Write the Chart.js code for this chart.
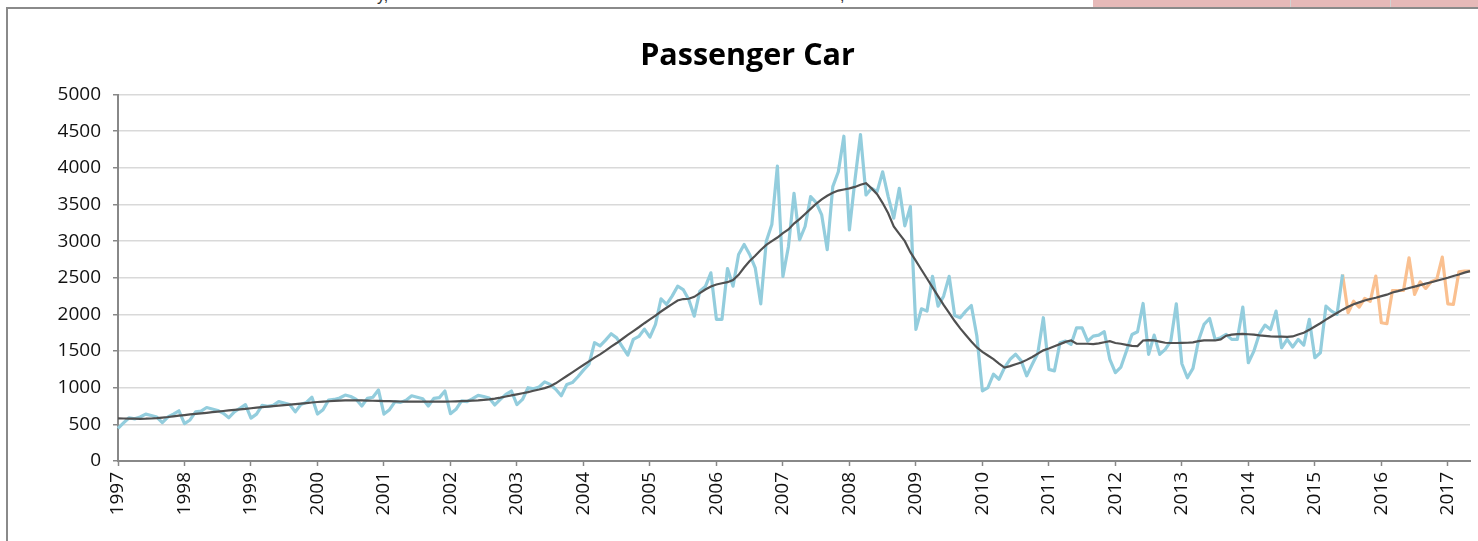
<!DOCTYPE html>
<html>
<head>
<meta charset="utf-8">
<script src="https://cdn.jsdelivr.net/npm/chart.js@4.4.1/dist/chart.umd.min.js"></script>
<style>
  html, body { margin: 0; padding: 0; background: #fff; overflow: hidden; width: 1478px; height: 541px; }
  .cut { position: absolute; top: -13px; font: 16px "Liberation Sans", sans-serif; color: #333; }
  .pink { position: absolute; left: 1093px; top: 0; width: 385px; height: 7px; background: #e6b9b8; }
  .pink i { position: absolute; top: 0; width: 1px; height: 7px; background: #d2d2d2; }
  .frame { position: absolute; left: 6px; top: 7px; width: 1500px; height: 600px;
           border-left: 2px solid #8a8a8a; border-top: 2px solid #8a8a8a; }
  .wrap { position: absolute; left: 0; top: 0; width: 1479px; height: 532px; }
</style>
</head>
<body>
<span class="cut" style="left:377px">y,</span>
<span class="cut" style="left:840px">,</span>
<div class="pink"><i style="left:197px"></i><i style="left:297px"></i></div>
<div class="frame">
  <div class="wrap"><canvas id="carChart"></canvas></div>
</div>
<script>
// Passenger car sales, monthly, Jan 1997 - May 2017

const yearTicks = ['1997', '1998', '1999', '2000', '2001', '2002', '2003', '2004', '2005', '2006', '2007',
    '2008', '2009', '2010', '2011', '2012', '2013', '2014', '2015', '2016', '2017'];

// actual values, Jan 1997 - Jun 2015
const actual = [
    445, 520, 590, 575, 600, 640, 620, 600, 525, 600, 640, 685,
    510, 560, 670, 680, 730, 710, 690, 650, 590, 670, 720, 770,
    585, 640, 760, 745, 760, 810, 790, 770, 670, 770, 800, 870,
    640, 700, 830, 840, 860, 900, 880, 840, 750, 855, 870, 970,
    640, 700, 810, 800, 830, 890, 870, 850, 750, 855, 865, 955,
    645, 705, 820, 810, 850, 895, 880, 860, 765, 840, 910, 955,
    770, 840, 1000, 985, 1010, 1080, 1045, 980, 890, 1045, 1070, 1150,
    1240, 1320, 1614, 1570, 1650, 1736, 1680, 1560, 1445, 1660, 1700, 1800,
    1690, 1864, 2214, 2136, 2250, 2386, 2340, 2205, 1977, 2318, 2380, 2568,
    1932, 1932, 2627, 2386, 2818, 2955, 2818, 2636, 2145, 3000, 3227, 4023,
    2520, 2928, 3653, 3019, 3200, 3608, 3526, 3358, 2883, 3744, 3947, 4432,
    3155, 3834, 4455, 3630, 3721, 3676, 3947, 3608, 3313, 3721, 3209, 3472,
    1796, 2077, 2045, 2520, 2113, 2249, 2520, 1986, 1954, 2045, 2122, 1705,
    958, 1003, 1184, 1116, 1275, 1388, 1456, 1366, 1162, 1320, 1470, 1955,
    1250, 1230, 1614, 1636, 1591, 1818, 1818, 1636, 1705, 1718, 1764, 1386,
    1205, 1282, 1500, 1727, 1764, 2150, 1455, 1718, 1455, 1523, 1636, 2145,
    1327, 1136, 1264, 1645, 1864, 1945, 1659, 1682, 1727, 1659, 1659, 2100,
    1341, 1500, 1736, 1855, 1795, 2045, 1545, 1659, 1555, 1659, 1582, 1932,
    1409, 1477, 2114, 2045, 2000, 2545
];

// forecast values, Jun 2015 - May 2017
const forecast = [
    2545, 2023, 2180, 2100, 2218, 2180, 2523, 1886, 1873, 2327, 2327, 2327,
    2773, 2273, 2445, 2355, 2445, 2477, 2782, 2145, 2136, 2582, 2590, 2591
];

// moving average trend, Jan 1997 - May 2017
const trend = [
    582, 580, 578, 577, 576, 577, 580, 585, 592, 600, 610, 620,
    627, 635, 643, 650, 658, 666, 674, 682, 690, 698, 705, 712,
    720, 728, 735, 742, 749, 756, 763, 770, 777, 784, 791, 798,
    805, 810, 815, 820, 824, 827, 828, 828, 827, 825, 822, 820,
    818, 816, 814, 812, 811, 810, 810, 810, 810, 810, 810, 811,
    812, 814, 817, 820, 824, 828, 835, 842, 852, 865, 880, 895,
    910, 925, 940, 958, 975, 995, 1020, 1060, 1110, 1160, 1210, 1260,
    1310, 1360, 1410, 1455, 1505, 1560, 1610, 1665, 1720, 1773, 1825, 1880,
    1932, 1985, 2040, 2091, 2140, 2190, 2210, 2214, 2240, 2290, 2340, 2380,
    2409, 2425, 2440, 2470, 2540, 2640, 2730, 2800, 2880, 2950, 3000, 3050,
    3110, 3160, 3240, 3300, 3370, 3440, 3510, 3570, 3620, 3660, 3690, 3705,
    3720, 3740, 3770, 3790, 3720, 3640, 3520, 3380, 3200, 3100, 3000, 2850,
    2730, 2610, 2490, 2370, 2250, 2130, 2020, 1910, 1810, 1720, 1630, 1550,
    1490, 1440, 1390, 1330, 1275, 1295, 1320, 1345, 1380, 1420, 1465, 1510,
    1535, 1565, 1595, 1625, 1645, 1600, 1600, 1600, 1595, 1605, 1620, 1636,
    1610, 1600, 1585, 1570, 1568, 1645, 1650, 1645, 1630, 1614, 1610, 1610,
    1612, 1614, 1620, 1635, 1645, 1645, 1645, 1660, 1710, 1725, 1732, 1736,
    1730, 1725, 1714, 1708, 1702, 1698, 1696, 1695, 1700, 1727, 1750, 1790,
    1835, 1880, 1930, 1975, 2020, 2065, 2105, 2140, 2165, 2190, 2210, 2227,
    2250, 2270, 2300, 2318, 2340, 2360, 2380, 2400, 2420, 2440, 2460, 2480,
    2500, 2525, 2545, 2570, 2591
];

// one label per month, the year shown only on January
const labels = [];
yearTicks.forEach(y => {
    for (let m = 1; m <= 12; m++) labels.push(y + '-' + m);
});
labels.length = trend.length;

const actualData = labels.map((_, i) => i < actual.length ? actual[i] : null);
const fcStart = labels.length - forecast.length;
const forecastData = labels.map((_, i) => i >= fcStart ? forecast[i - fcStart] : null);

const font = { family: '"Open Sans", sans-serif', size: 19 };

new Chart(document.getElementById('carChart'), {
    type: 'line',
    data: {
        labels: labels,
        datasets: [
            {
                label: 'Trend',
                data: trend,
                borderColor: '#505050',
                borderWidth: 2.2,
                pointRadius: 0,
                tension: 0
            },
            {
                label: 'Actual',
                data: actualData,
                borderColor: '#93cddd',
                borderWidth: 3.2,
                pointRadius: 0,
                tension: 0,
                borderJoinStyle: 'round'
            },
            {
                label: 'Forecast',
                data: forecastData,
                borderColor: '#fac090',
                borderWidth: 3.2,
                pointRadius: 0,
                tension: 0,
                borderJoinStyle: 'round'
            }
        ]
    },
    options: {
        responsive: true,
        maintainAspectRatio: false,
        animation: false,
        // left padding keeps the title centred where the reference has it
        layout: { padding: { left: 17, right: 17, top: 0, bottom: 0 } },
        plugins: {
            legend: { display: false },
            tooltip: { enabled: false },
            title: {
                display: true,
                text: 'Passenger Car',
                color: '#000',
                font: { family: '"Open Sans", sans-serif', size: 30.5, weight: 'bold' },
                padding: { top: 29, bottom: 20 }
            }
        },
        scales: {
            x: {
                afterFit: s => { s.height = 80; },
                grid: { drawOnChartArea: false, tickLength: 5, tickColor: '#888', tickWidth: 1.5 },
                border: { color: '#888', width: 2 },
                ticks: {
                    autoSkip: false,
                    minRotation: 90,
                    maxRotation: 90,
                    padding: 6,
                    color: '#111',
                    font: font,
                    callback: (v, i) => i % 12 === 0 ? yearTicks[i / 12] : null
                }
            },
            y: {
                min: 0,
                max: 5000,
                afterFit: s => { s.width = 93; },
                grid: { color: '#d9d9d9', lineWidth: 1.5, tickLength: 5, tickColor: '#888' },
                border: { color: '#888', width: 2 },
                ticks: { stepSize: 500, padding: 12, color: '#111', font: font, callback: v => String(v) }
            }
        }
    }
});
</script>
</body>
</html>
